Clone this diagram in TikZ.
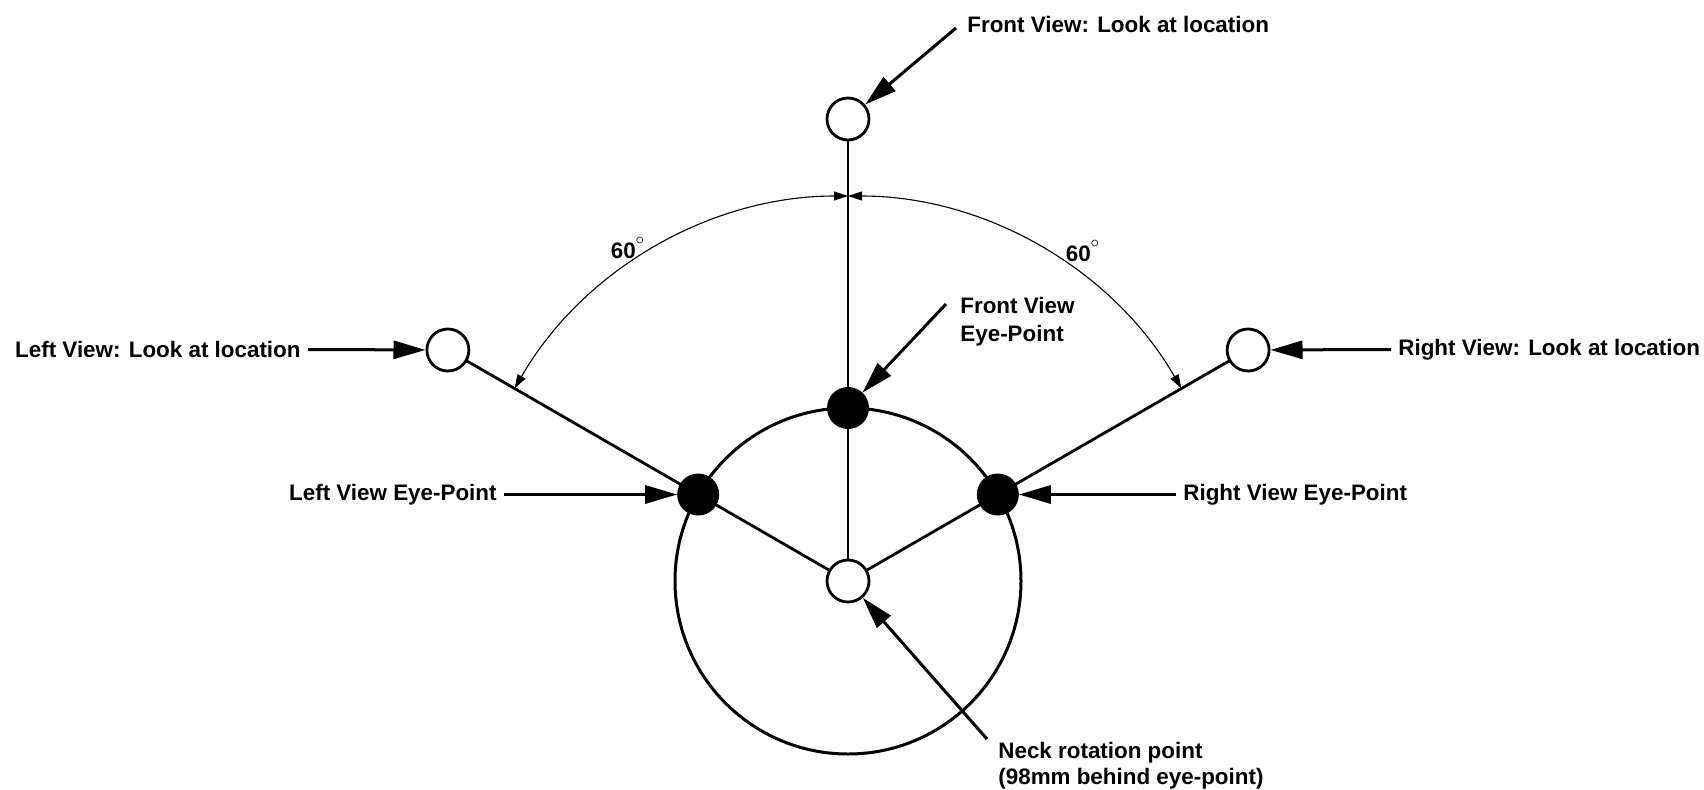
\documentclass[tikz,border=0pt]{standalone}
\usepackage{fontspec}
\setmainfont{Liberation Sans}
\usetikzlibrary{arrows.meta,calc}
\begin{document}
\begin{tikzpicture}[x=0.5pt,y=-0.5pt,
  lbl/.style={font=\fontsize{11.2}{14}\selectfont\bfseries, inner sep=3.5pt},
  opencirc/.style={circle, draw, line width=1.4pt, fill=white, minimum size=21pt, inner sep=0pt},
  eyecirc/.style={circle, draw, fill=black, line width=1pt, minimum size=20pt, inner sep=0pt},
  headcirc/.style={circle, draw, line width=1.5pt, minimum size=173pt, inner sep=0pt},
  spoke/.style={line width=1.4pt},
  callout/.style={line width=1.5pt, -{Triangle[length=16pt,width=9pt]}},
  dimarc/.style={line width=0.55pt, {Triangle[length=7pt,width=4.5pt]}-{Triangle[length=7pt,width=4.5pt]}},
]
\useasboundingbox (0,0) rectangle (1704,789);
% geometry
\coordinate (N) at (848,581);
\coordinate (cFE) at ($(N)+(-90:173)$);
\coordinate (cLE) at ($(N)+(-150:173)$);
\coordinate (cRE) at ($(N)+(-30:173)$);
\coordinate (cFL) at ($(N)+(-90:462)$);
\coordinate (cLL) at ($(N)+(-150:462)$);
\coordinate (cRL) at ($(N)+(-30:462)$);
% angle arcs
\draw[dimarc] ($(N)+(-150:385)$) arc[start angle=-150, end angle=-90, radius=385];
\draw[dimarc] ($(N)+(-30:385)$) arc[start angle=-30, end angle=-90, radius=385];
% spokes
\draw[spoke] (N) -- (cFL);
\draw[spoke] (N) -- (cLL);
\draw[spoke] (N) -- (cRL);
% head
\node[headcirc] (head) at (N) {};
% points
\node[opencirc] (NK) at (N) {};
\node[opencirc] (FL) at (cFL) {};
\node[opencirc] (LL) at (cLL) {};
\node[opencirc] (RL) at (cRL) {};
\node[eyecirc] (FE) at (cFE) {};
\node[eyecirc] (LE) at (cLE) {};
\node[eyecirc] (RE) at (cRE) {};
% labels
\node[lbl, anchor=base west] (tFL) at (960,32) {Front View: Look at location};
\node[lbl, anchor=base west] (tFE1) at (953,313) {Front View};
\node[lbl, anchor=base west] (tFE2) at (953,341) {Eye-Point};
\node[lbl, anchor=base west] (tNK1) at (991,758) {Neck rotation point};
\node[lbl, anchor=base west] (tNK2) at (991,784) {(98mm behind eye-point)};
\node[lbl, anchor=east] (tLL) at (308,349.5) {Left View: Look at location};
\node[lbl, anchor=east] (tLE) at (504,494.5) {Left View Eye-Point};
\node[lbl, anchor=west] (tRE) at (1176,494.5) {Right View Eye-Point};
\node[lbl, anchor=west] (tRL) at (1391,349.5) {Right View: Look at location};
\node[lbl] (dL) at (628,248) {60\raisebox{0.55ex}{$^{\circ}$}};
\node[lbl] (dR) at (1083,251) {60\raisebox{0.55ex}{$^{\circ}$}};
% callouts
\coordinate (aFL) at (956,28);
\coordinate (aFE) at (946,304);
\coordinate (aNK) at (987,739);
\draw[callout] (aFL) -- (FL);
\draw[callout] (aFE) -- (FE);
\draw[callout] (aNK) -- (NK);
\draw[callout] (tLL.east) -- (LL);
\draw[callout] (tLE.east) -- (LE);
\draw[callout] (tRE.west) -- (RE);
\draw[callout] (tRL.west) -- (RL);
\end{tikzpicture}
\end{document}
